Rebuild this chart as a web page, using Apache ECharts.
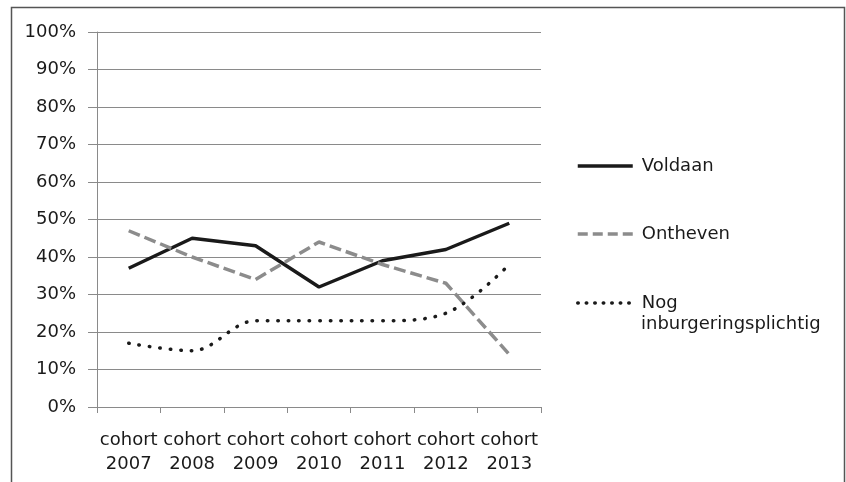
<!DOCTYPE html>
<html>
<head>
<meta charset="utf-8">
<script src="https://cdn.jsdelivr.net/npm/echarts@6/dist/echarts.min.js"></script>
<style>
html,body{margin:0;padding:0;background:#fff;}
#chart{width:846px;height:482px;}
</style>
</head>
<body>
<div id="chart"></div>
<script>
const categories = ['cohort 2007','cohort 2008','cohort 2009','cohort 2010','cohort 2011','cohort 2012','cohort 2013'];
const voldaan = [37, 45, 43, 32, 39, 42, 49];
const ontheven = [47, 40, 34, 44, 38, 33, 14];
const nogInburgeringsplichtig = [17, 15, 23, 23, 23, 25, 38];
const seriesNames = ['Voldaan', 'Ontheven', 'Nog inburgeringsplichtig'];

const FONT = '"DejaVu Sans"';
const FS = 18;
const axisGray = '#8a8a8a';
const textColor = '#1a1a1a';

const chart = echarts.init(document.getElementById('chart'), null, {renderer: 'canvas'});

function legendFor(name, centerY, label, dash) {
  return {
    data: [name],
    left: 576,
    top: centerY - 10,
    itemWidth: 55,
    itemHeight: 20,
    itemGap: 0,
    padding: 0,
    selectedMode: false,
    itemStyle: {opacity: 0},
    lineStyle: {width: 3.5, type: dash},
    formatter: function () { return label; },
    textStyle: {fontFamily: FONT, fontSize: FS, color: textColor, lineHeight: 20, padding: [0, 0, 0, 4]}
  };
}

chart.setOption({
  animation: false,
  backgroundColor: '#fff',
  grid: {left: 97, right: 305, top: 32, bottom: 75, containLabel: false},
  legend: [
    legendFor(seriesNames[0], 166, 'Voldaan', 'solid'),
    legendFor(seriesNames[1], 234, 'Ontheven', [10, 5]),
    legendFor(seriesNames[2], 303, 'Nog', [0.5, 8])
  ],
  graphic: [
    {type: 'rect', left: 9, top: 5, shape: {width: 833, height: 520},
     style: {fill: 'none', stroke: '#555', lineWidth: 1.5}, silent: true},
    {type: 'text', left: 641, top: 315,
     style: {text: 'inburgeringsplichtig', font: FS + 'px ' + FONT, fill: textColor}}
  ],
  xAxis: {
    type: 'category',
    data: categories,
    boundaryGap: true,
    axisLine: {show: true, lineStyle: {color: axisGray, width: 1}},
    axisTick: {show: true, length: 6, alignWithLabel: false, lineStyle: {color: axisGray}},
    axisLabel: {
      interval: 0, margin: 21, color: textColor, fontFamily: FONT, fontSize: FS, lineHeight: 24,
      formatter: function (v) { return v.replace(' ', '\n'); }
    },
    splitLine: {show: false}
  },
  yAxis: {
    type: 'value',
    min: 0, max: 100, interval: 10,
    axisLine: {show: true, lineStyle: {color: axisGray, width: 1}},
    axisTick: {show: true, length: 9, lineStyle: {color: axisGray}},
    axisLabel: {margin: 21, color: textColor, fontFamily: FONT, fontSize: FS, formatter: '{value}%'},
    splitLine: {show: true, lineStyle: {color: axisGray, width: 1}}
  },
  series: [
    {name: seriesNames[0], type: 'line', data: voldaan, symbol: 'none',
     lineStyle: {color: '#1a1a1a', width: 3.5, type: 'solid'}, itemStyle: {color: '#1a1a1a'}},
    {name: seriesNames[1], type: 'line', data: ontheven, symbol: 'none',
     lineStyle: {color: '#8c8c8c', width: 3.5, type: [12, 5]}, itemStyle: {color: '#8c8c8c'}},
    {name: seriesNames[2], type: 'line', data: nogInburgeringsplichtig, symbol: 'none', smooth: 0.35,
     lineStyle: {color: '#1a1a1a', width: 3.5, type: [0.5, 10], cap: 'round'}, itemStyle: {color: '#1a1a1a'}}
  ]
});
</script>
</body>
</html>
